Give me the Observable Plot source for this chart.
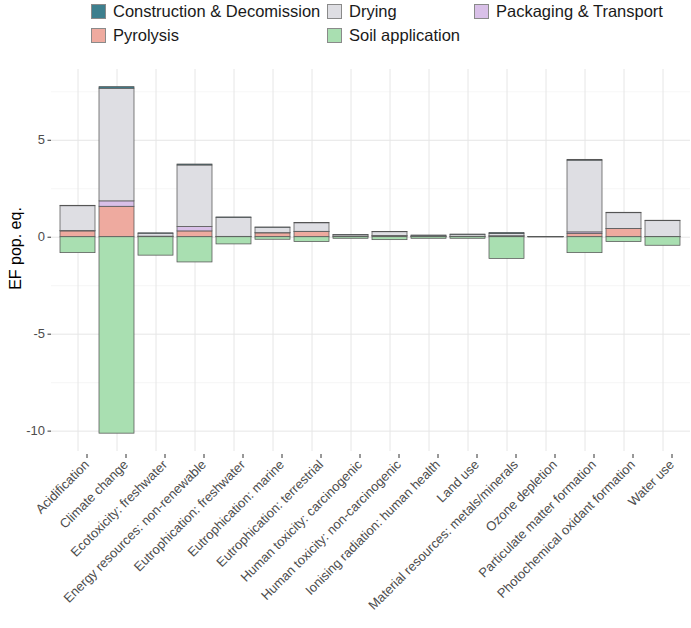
<!DOCTYPE html>
<html>
<head>
<meta charset="utf-8">
<script src="https://cdn.jsdelivr.net/npm/d3@7"></script>
<script src="https://cdn.jsdelivr.net/npm/@observablehq/plot@0.6"></script>
<style>
  html, body { margin: 0; padding: 0; background: white; }
  #wrap { position: relative; width: 691px; height: 628px; font-family: "Liberation Sans", Arial, sans-serif; }
  #legend { position: absolute; left: 0; top: 0; width: 691px; height: 50px; z-index: 2; }
  .item { position: absolute; display: flex; align-items: center; font-size: 16.5px; color: #1a1a1a; white-space: nowrap; }
  .key { width: 15px; height: 15px; box-sizing: border-box; border: 1px solid #8a8a8a; margin-right: 7px; }
  #chart { position: absolute; left: 0; top: 0; }
</style>
</head>
<body>
<div id="wrap">
  <div id="chart"></div>
  <div id="legend"></div>
</div>
<script>
const categories = [
  "Acidification",
  "Climate change",
  "Ecotoxicity: freshwater",
  "Energy resources: non-renewable",
  "Eutrophication: freshwater",
  "Eutrophication: marine",
  "Eutrophication: terrestrial",
  "Human toxicity: carcinogenic",
  "Human toxicity: non-carcinogenic",
  "Ionising radiation: human health",
  "Land use",
  "Material resources: metals/minerals",
  "Ozone depletion",
  "Particulate matter formation",
  "Photochemical oxidant formation",
  "Water use"
];

const processes = ["Construction & Decomission", "Drying", "Packaging & Transport", "Pyrolysis", "Soil application"];
const processColors = ["#3d7f8e", "#dedee3", "#d9c0e8", "#eeaa9f", "#a9dfb1"];

const construction = [0.02, 0.08, 0.02, 0.05, 0.02, 0.01, 0.01, 0.01, 0.01, 0.01, 0.01, 0.05, 0.002, 0.04, 0.02, 0.02];
const drying       = [1.28, 5.81, 0.15, 3.17, 0.98, 0.28, 0.44, 0.07, 0.20, 0.06, 0.10, 0.12, 0.005, 3.70, 0.81, 0.815];
const packaging    = [0.02, 0.28, 0.01, 0.23, 0.01, 0.01, 0.01, 0.01, 0.01, 0.005, 0.005, 0.01, 0.001, 0.09, 0.01, 0.005];
const pyrolysis    = [0.30, 1.57, 0.02, 0.30, 0.01, 0.20, 0.27, 0.03, 0.05, 0.01, 0.02, 0.04, 0.002, 0.16, 0.42, 0.01];
const soil         = [-0.82, -10.13, -0.95, -1.30, -0.37, -0.13, -0.25, -0.08, -0.15, -0.08, -0.08, -1.12, -0.005, -0.82, -0.25, -0.44];

const yTicks = [-10, -5, 0, 5];
const yMinorTicks = [-7.5, -2.5, 2.5, 7.5];
const yLabel = "EF pop. eq.";

// stacking order from the baseline outward
const stackOrder = ["Pyrolysis", "Packaging & Transport", "Drying", "Construction & Decomission", "Soil application"];
const seriesValues = {
  "Construction & Decomission": construction,
  "Drying": drying,
  "Packaging & Transport": packaging,
  "Pyrolysis": pyrolysis,
  "Soil application": soil
};

const rows = [];
categories.forEach((c, i) => {
  stackOrder.forEach(p => rows.push({category: c, process: p, value: seriesValues[p][i]}));
});

const chart = Plot.plot({
  width: 691,
  height: 628,
  marginLeft: 51,
  marginRight: 1,
  marginTop: 69,
  marginBottom: 177,
  style: {fontFamily: "'Liberation Sans', Arial, sans-serif", background: "white"},
  x: {domain: categories, paddingInner: 0.1, paddingOuter: 0.15, label: null},
  y: {domain: [-11.05, 8.65], label: null},
  color: {domain: processes, range: processColors},
  marks: [
    Plot.gridY(yMinorTicks, {stroke: "#f0f0f0", strokeOpacity: 1, strokeWidth: 0.6}),
    Plot.gridY(yTicks, {stroke: "#e6e6e6", strokeOpacity: 1, strokeWidth: 1}),
    Plot.gridX(categories, {stroke: "#e6e6e6", strokeOpacity: 1, strokeWidth: 1}),
    Plot.barY(rows, Plot.stackY({order: stackOrder}, {
      x: "category", y: "value", fill: "process", z: "process",
      inset: 0, stroke: "#555555", strokeWidth: 0.75
    })),
    Plot.axisY(yTicks, {
      tickSize: 3.5, tickPadding: 3, fontSize: 13, fill: "#4d4d4d", stroke: "#333333",
      tickFormat: d => String(d), label: null
    }),
    Plot.axisX({
      tickRotate: -45, tickSize: 4, tickPadding: 4, fontSize: 13, fill: "#4d4d4d", stroke: "#333333",
      label: null, dx: 9, dy: 3
    }),
    Plot.text([yLabel], {
      frameAnchor: "left", textAnchor: "middle", dx: -36, dy: -12, rotate: -90,
      text: d => d, fontSize: 16, fill: "#000000"
    })
  ]
});
document.getElementById("chart").appendChild(chart);

// legend (2 rows, filled by row)
const legendPos = [
  {x: 91, y: 3}, {x: 327, y: 3}, {x: 474, y: 3},
  {x: 91, y: 27}, {x: 327, y: 27}
];
const legend = document.getElementById("legend");
processes.forEach((p, i) => {
  const item = document.createElement("div");
  item.className = "item";
  item.style.left = legendPos[i].x + "px";
  item.style.top = legendPos[i].y + "px";
  item.style.height = "17px";
  const key = document.createElement("div");
  key.className = "key";
  key.style.background = processColors[i];
  const label = document.createElement("span");
  label.textContent = p;
  item.appendChild(key);
  item.appendChild(label);
  legend.appendChild(item);
});
</script>
</body>
</html>
